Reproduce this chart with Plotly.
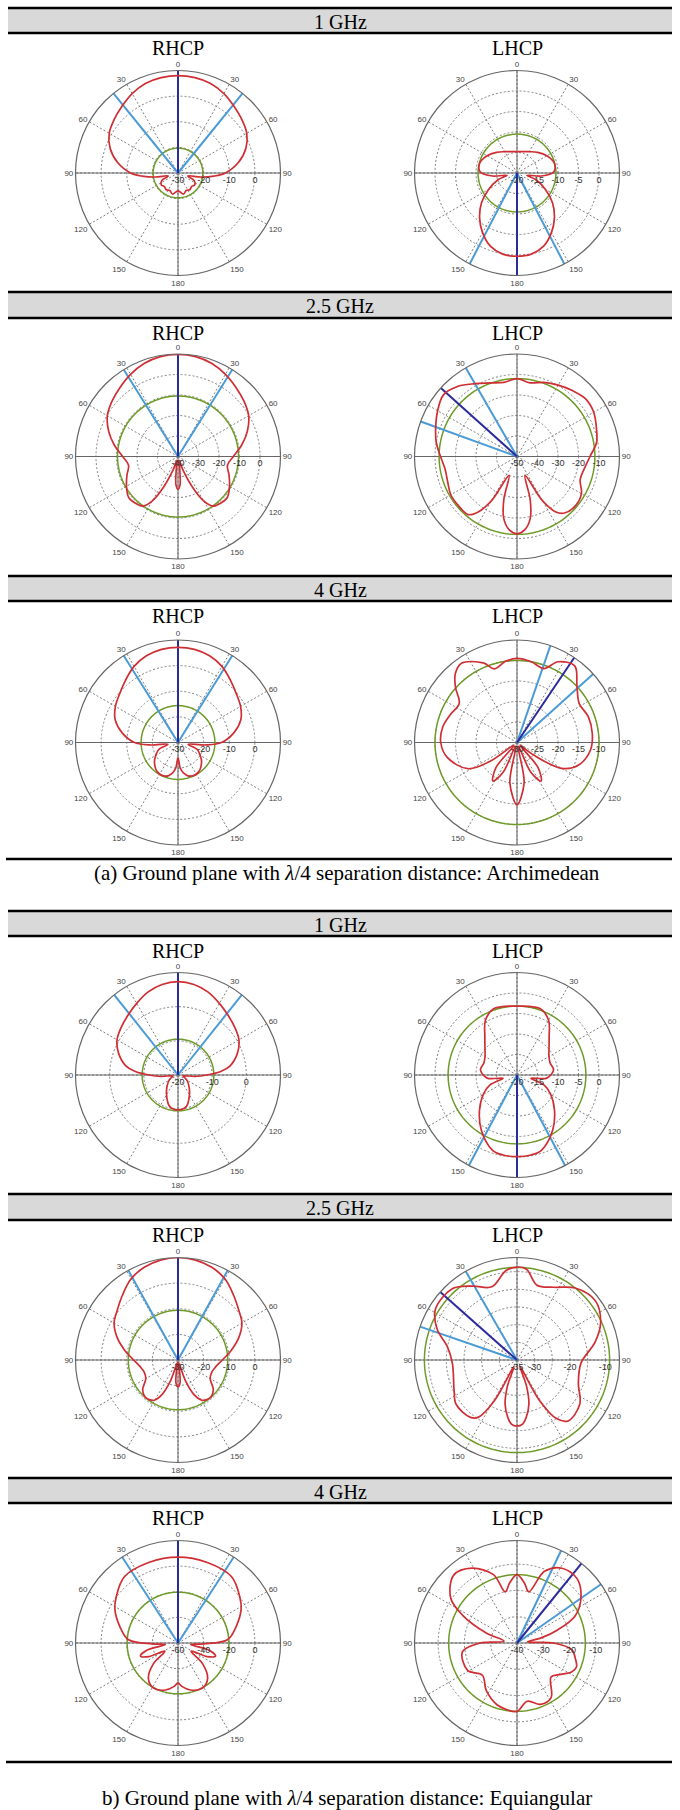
import plotly.graph_objects as go

W, H = 680, 1810

FREQ_LABELS = ["1 GHz", "2.5 GHz", "4 GHz", "1 GHz", "2.5 GHz", "4 GHz"]
POL_LABELS = ["RHCP", "LHCP"]
ANG_TICKS = [0, 30, 60, 90, 120, 150, 180, 210, 240, 270, 300, 330]
ANG_TEXT = ["0", "30", "60", "90", "120", "150", "180", "150", "120", "90", "60", "30"]
CAPTION_A = "(a) Ground plane with <i>λ</i>/4 separation distance: Archimedean"
CAPTION_B = "b) Ground plane with <i>λ</i>/4 separation distance: Equiangular"

# ---------------- (a) Archimedean ----------------
A1R_theta = [0,10,20,30,40,50,60,70,80,90,95,100,107,115,125,135,145,155,165,180,195,205,215,225,235,245,253,260,265,270,280,290,300,310,320,330,340,350,360]
A1R_r = [8,7.8,7.2,5.8,4,2.5,1,-1.8,-6,-11.5,-16,-21,-26,-23,-22,-22.5,-22,-22.5,-21.5,-23,-21.5,-22.5,-22,-22.5,-22,-23,-26,-21,-16,-11.5,-6,-1.8,1,2.5,4,5.8,7.2,7.8,8]
A1R_range = [-30, 10]
A1R_ticks = [-30, -20, -10, 0]
A1R_green = -20.3
A1R_main = 0
A1R_edges = [39, -39]

A1L_theta = [0,15,30,45,60,75,88,97,103,110,120,130,140,150,160,170,180,190,200,210,220,230,240,250,257,263,272,285,300,315,330,345,360]
A1L_r = [-14.8,-14.6,-14.0,-12.9,-11.6,-10.6,-11,-14,-17.5,-15,-12,-8.7,-5.8,-3.2,-1,0.1,0.3,0.1,-1,-3.2,-5.8,-8.7,-12,-15,-17.5,-14,-11,-10.6,-11.6,-12.9,-14.0,-14.6,-14.8]
A1L_range = [-20, 5]
A1L_ticks = [-20, -15, -10, -5, 0]
A1L_green = -10.5
A1L_main = 180
A1L_edges = [152.5, 207.5]

A25R_theta = [0,10,20,30,40,50,60,70,80,90,100,110,120,130,140,145,150,155,160,165,172,176,180,184,188,195,200,205,210,215,220,230,240,250,260,270,280,290,300,310,320,330,340,350,360]
A25R_r = [9.8,9.5,8.3,6.3,4,2,-0.2,-4,-8.5,-13,-15.5,-13.5,-11,-8.7,-9.5,-10.5,-15,-24,-33,-38,-34,-26,-24,-26,-34,-38,-33,-24,-15,-10.5,-9.5,-8.7,-11,-13.5,-15.5,-13,-8.5,-4,-0.2,2,4,6.3,8.3,9.5,9.8]
A25R_range = [-40, 10]
A25R_ticks = [-40, -30, -20, -10, 0]
A25R_green = -10.5
A25R_main = 0
A25R_edges = [32, -32]

A25L_theta = [0,10,20,30,40,50,60,70,80,90,100,110,120,130,140,145,150,157,163,168,174,180,186,192,197,203,210,215,220,230,240,250,260,270,280,290,300,310,320,330,340,350,360]
A25L_r = [-12,-13.5,-11.5,-9.8,-8,-6.3,-6.8,-8.8,-10.6,-14.4,-16.6,-17.2,-13.7,-12.7,-14,-17,-25,-40,-28,-19,-14,-12.3,-14,-19,-28,-40,-25,-17,-13,-12.7,-12.7,-14,-14.4,-12.7,-10,-7.8,-5.3,-3.2,-5.3,-9,-11.8,-13.3,-12]
A25L_range = [-50, 0]
A25L_ticks = [-50, -40, -30, -20, -10]
A25L_green = -12
A25L_main = 312
A25L_edges = [330, 290]

A4R_theta = [0,10,20,30,40,50,60,70,80,90,95,100,110,120,130,145,160,170,175,180,185,190,200,215,230,240,250,260,265,270,280,290,300,310,320,330,340,350,360]
A4R_r = [7.1,6.9,6,4.3,1.8,-0.3,-1.8,-3.9,-7.8,-13,-19,-26,-22,-20,-18,-16,-16,-18,-20,-24,-20,-18,-16,-16,-18,-20,-22,-26,-19,-13,-7.8,-3.9,-1.8,-0.3,1.8,4.3,6,6.9,7.1]
A4R_range = [-30, 10]
A4R_ticks = [-30, -20, -10, 0]
A4R_green = -15.6
A4R_main = 0
A4R_edges = [32, -32]

A4L_theta = [0,10,20,27,37,47,58,70,83,96,110,120,127,133,140,148,155,162,170,180,190,198,205,212,220,227,235,242,258,270,282,293,304,312,318,325,337,343,352,360]
A4L_r = [-9.5,-10,-10.8,-7.9,-6.6,-10,-12.1,-11.5,-11.5,-12,-14,-17.4,-25,-29,-22,-18.9,-22,-29,-20,-14.8,-20,-29,-22,-18.9,-22,-29,-22,-16.4,-12.6,-11.4,-11.5,-12.4,-13,-9.8,-7.5,-6.4,-8.9,-11.2,-10,-9.5]
A4L_range = [-30, -5]
A4L_ticks = [-30, -25, -20, -15, -10]
A4L_green = -10
A4L_main = 34
A4L_edges = [19, 48]

# ---------------- (b) Equiangular ----------------
B1R_theta = [0,10,20,30,40,50,60,70,80,85,90,95,100,110,120,135,150,165,180,195,210,225,240,250,260,265,270,275,280,290,300,310,320,330,340,350,360]
B1R_r = [7.3,6.9,5.8,4.2,2.8,1.7,0.6,-1.5,-4.5,-7.3,-11.5,-15,-18.5,-18,-17,-15.5,-13.3,-10.5,-9.8,-10.5,-13.3,-15.5,-17,-18,-18.5,-15,-11.5,-7.3,-4.5,-1.5,0.6,1.7,2.8,4.2,5.8,6.9,7.3]
B1R_range = [-20, 10]
B1R_ticks = [-20, -10, 0]
B1R_green = -9.5
B1R_main = 0
B1R_edges = [38.5, -38.5]

B1L_theta = [0,10,20,30,40,50,60,70,82,96,103,110,119,133,147,162,170,180,190,198,213,227,241,250,257,264,278,290,300,310,320,330,340,350,360]
B1L_r = [-3.2,-3.0,-2.9,-4.6,-7.8,-9.8,-11,-11.4,-11,-12.7,-16.5,-13,-10.7,-7.5,-4,-0.7,-0.2,-0.1,-0.2,-0.7,-4,-7.5,-10.7,-13,-16.5,-12.7,-11,-11.4,-11,-9.8,-7.8,-4.6,-2.9,-3.0,-3.2]
B1L_range = [-20, 5]
B1L_ticks = [-20, -15, -10, -5, 0]
B1L_green = -3.2
B1L_main = 180
B1L_edges = [152, 208]

B25R_theta = [0,10,20,30,40,50,60,70,80,90,100,110,120,130,138,145,150,155,160,165,170,175,180,185,190,195,200,205,210,215,222,230,240,250,260,270,280,290,300,310,320,330,340,350,360]
B25R_r = [10,9.6,8.5,6.6,3.5,0.8,-1.2,-4.8,-9,-12.7,-15,-16,-15.5,-12,-10.7,-11,-12,-15,-21,-29,-28,-21,-19.5,-21,-28,-29,-21,-15,-12,-11,-10.7,-12,-15.5,-16,-15,-12.7,-9,-4.8,-1.2,0.8,3.5,6.6,8.5,9.6,10]
B25R_range = [-30, 10]
B25R_ticks = [-30, -20, -10, 0]
B25R_green = -10.6
B25R_main = 0
B25R_edges = [29, -29]

B25L_theta = [0,6,15,27,39,53,66,77,93,111,125,140,146,151,155,160,165,171,175,180,185,189,195,200,205,209,214,219,234,244,267,281,291,302,318,329,341,353,360]
B25L_r = [-8.7,-9.2,-13.1,-11.9,-8.8,-7.2,-9.1,-12.3,-16.9,-16.4,-13.3,-12.5,-15,-22,-33,-27,-22,-18.5,-16.8,-16.3,-16.8,-18.5,-22,-27,-33,-22,-15.5,-14.1,-13.7,-15.2,-16.7,-14.9,-10.8,-7.8,-7.8,-10.6,-13.1,-9.5,-8.7]
B25L_range = [-35, -6]
B25L_ticks = [-35, -30, -25, -20, -15, -10]
B25L_ticktext = ["-35", "-30", "", "-20", "", "-10"]
B25L_green = -8.8
B25L_main = 311.5
B25L_edges = [330, 289]

B4R_theta = [0,20,39,53,62,74,86,92,97,103,109,115,122,130,140,152,165,175,180,185,195,208,220,230,238,245,251,257,263,268,274,286,298,307,321,340,360]
B4R_r = [7,6.8,6.5,0.3,-4.2,-12.7,-21,-40,-50,-35,-29,-35,-48,-35,-24,-20,-22,-26,-28.8,-26,-22,-20,-24,-35,-48,-35,-29,-35,-50,-40,-21,-12.7,-4.2,0.3,6.5,6.8,7]
B4R_range = [-60, 20]
B4R_ticks = [-60, -40, -20, 0]
B4R_green = -20.3
B4R_main = 0
B4R_edges = [33, -33]

B4L_theta = [0,7,13,21,31,43,55,65,72,78,84,90,97,105,112,118,127,135,148,159,170,180,189,198,213,227,241,261,270,278,288,297,304,317,329,341,347,353,360]
B4L_r = [-14,-17,-20,-10.8,-6.8,-6.5,-10.3,-15.6,-23.6,-30.6,-36,-26,-19,-17,-15.6,-16.5,-20,-21.7,-15.5,-15,-17.5,-14,-14.4,-15.3,-18.5,-22,-18.5,-19,-26,-35,-27.7,-16.8,-9.6,-4.7,-6.8,-12.5,-20,-17,-14]
B4L_range = [-40, -1]
B4L_ticks = [-40, -30, -20, -10]
B4L_green = -14
B4L_main = 39
B4L_edges = [25.5, 55]

PANELS = [
    (A1R_theta, A1R_r, A1R_range, A1R_ticks, None, A1R_green, A1R_main, A1R_edges),
    (A1L_theta, A1L_r, A1L_range, A1L_ticks, None, A1L_green, A1L_main, A1L_edges),
    (A25R_theta, A25R_r, A25R_range, A25R_ticks, None, A25R_green, A25R_main, A25R_edges),
    (A25L_theta, A25L_r, A25L_range, A25L_ticks, None, A25L_green, A25L_main, A25L_edges),
    (A4R_theta, A4R_r, A4R_range, A4R_ticks, None, A4R_green, A4R_main, A4R_edges),
    (A4L_theta, A4L_r, A4L_range, A4L_ticks, None, A4L_green, A4L_main, A4L_edges),
    (B1R_theta, B1R_r, B1R_range, B1R_ticks, None, B1R_green, B1R_main, B1R_edges),
    (B1L_theta, B1L_r, B1L_range, B1L_ticks, None, B1L_green, B1L_main, B1L_edges),
    (B25R_theta, B25R_r, B25R_range, B25R_ticks, None, B25R_green, B25R_main, B25R_edges),
    (B25L_theta, B25L_r, B25L_range, B25L_ticks, B25L_ticktext, B25L_green, B25L_main, B25L_edges),
    (B4R_theta, B4R_r, B4R_range, B4R_ticks, None, B4R_green, B4R_main, B4R_edges),
    (B4L_theta, B4L_r, B4L_range, B4L_ticks, None, B4L_green, B4L_main, B4L_edges),
]

# ---------------- layout geometry (pixels) ----------------
ROW_BAND = [(8, 33), (292, 318), (576, 601), (911, 936), (1194, 1220), (1478, 1503)]
ROW_CY = [173, 456.5, 742.5, 1075, 1360, 1643]
COL_CX = [178, 517]
RAD = 102.5
SECTION_RULES = [859, 1762]
CAPTION_Y = [873, 1798]
X_LEFT, X_RIGHT = 8, 672

RED = "#cf2f34"
GREEN = "#6e9a28"
DARK_BLUE = "#2b2b9c"
LIGHT_BLUE = "#4b9bd6"
AXIS_GRAY = "#666666"
GRID_GRAY = "#808080"
SERIF = "Liberation Serif, Times New Roman, serif"
SANS = "Liberation Sans, Arial, sans-serif"


def px(x):
    return x / W


def py(y):
    return 1 - y / H


fig = go.Figure()
layout_polars = {}

for i, (th, rr, rng, ticks, ticktext, green, main, edges) in enumerate(PANELS):
    row, col = divmod(i, 2)
    name = "polar" if i == 0 else f"polar{i + 1}"
    sub = name
    cx, cy = COL_CX[col], ROW_CY[row]
    lo, hi = rng

    # axis cross (solid gray lines through the centre)
    fig.add_trace(go.Scatterpolar(r=[hi, lo, hi], theta=[0, 0, 180], mode="lines",
                                  line=dict(color=AXIS_GRAY, width=1), subplot=sub,
                                  hoverinfo="skip", showlegend=False))
    fig.add_trace(go.Scatterpolar(r=[hi, lo, hi], theta=[90, 90, 270], mode="lines",
                                  line=dict(color=AXIS_GRAY, width=1), subplot=sub,
                                  hoverinfo="skip", showlegend=False))
    # reference (green) circle
    circ_theta = list(range(0, 361, 2))
    fig.add_trace(go.Scatterpolar(r=[green] * len(circ_theta), theta=circ_theta, mode="lines",
                                  line=dict(color=GREEN, width=1.5), subplot=sub,
                                  hoverinfo="skip", showlegend=False))
    # beam-width lines
    for a in edges:
        fig.add_trace(go.Scatterpolar(r=[lo, hi], theta=[a, a], mode="lines",
                                      line=dict(color=LIGHT_BLUE, width=2), subplot=sub,
                                      hoverinfo="skip", showlegend=False))
    fig.add_trace(go.Scatterpolar(r=[lo, hi], theta=[main, main], mode="lines",
                                  line=dict(color=DARK_BLUE, width=2), subplot=sub,
                                  hoverinfo="skip", showlegend=False))
    # radiation pattern
    fig.add_trace(go.Scatterpolar(r=rr, theta=th, mode="lines",
                                  line=dict(color=RED, width=1.7, shape="spline", smoothing=1),
                                  subplot=sub, hoverinfo="skip", showlegend=False))

    layout_polars[name] = dict(
        domain=dict(x=[px(cx - RAD), px(cx + RAD)], y=[py(cy + RAD), py(cy - RAD)]),
        bgcolor="white",
        angularaxis=dict(rotation=90, direction="clockwise", tickmode="array",
                         tickvals=ANG_TICKS, ticktext=ANG_TEXT, ticks="",
                         showgrid=True, gridcolor=GRID_GRAY, griddash="2px,2px", gridwidth=1,
                         showline=True, linecolor=AXIS_GRAY, linewidth=1.2,
                         tickfont=dict(size=8, color="#444444", family=SANS)),
        radialaxis=dict(range=rng, tickmode="array", tickvals=ticks,
                        ticktext=ticktext if ticktext else [str(t) for t in ticks],
                        angle=0, side="clockwise", ticks="", showline=False,
                        showgrid=True, gridcolor=GRID_GRAY, griddash="2px,2px", gridwidth=1,
                        tickfont=dict(size=9, color="#333333", family=SANS)),
    )

shapes = []
annotations = []
for row, (t, b) in enumerate(ROW_BAND):
    shapes.append(dict(type="rect", xref="paper", yref="paper", x0=px(X_LEFT), x1=px(X_RIGHT),
                       y0=py(b), y1=py(t), fillcolor="#d9d9d9", line=dict(width=0), layer="below"))
    for yy in (t, b):
        shapes.append(dict(type="line", xref="paper", yref="paper", x0=px(X_LEFT), x1=px(X_RIGHT),
                           y0=py(yy), y1=py(yy), line=dict(color="black", width=2.5)))
    annotations.append(dict(text=FREQ_LABELS[row], x=px(340), y=py((t + b) / 2 + 1), xref="paper",
                            yref="paper", showarrow=False, xanchor="center", yanchor="middle",
                            font=dict(family=SERIF, size=20, color="black")))
    for col in range(2):
        annotations.append(dict(text=POL_LABELS[col], x=px(COL_CX[col]), y=py(b + 15), xref="paper",
                                yref="paper", showarrow=False, xanchor="center", yanchor="middle",
                                font=dict(family=SERIF, size=20, color="black")))

for yy in SECTION_RULES:
    shapes.append(dict(type="line", xref="paper", yref="paper", x0=px(X_LEFT - 2), x1=px(X_RIGHT),
                       y0=py(yy), y1=py(yy), line=dict(color="black", width=2.5)))

for txt, yy in zip([CAPTION_A, CAPTION_B], CAPTION_Y):
    annotations.append(dict(text=txt, x=px(347), y=py(yy), xref="paper", yref="paper",
                            showarrow=False, xanchor="center", yanchor="middle",
                            font=dict(family=SERIF, size=21, color="black")))

fig.update_layout(width=W, height=H, margin=dict(l=0, r=0, t=0, b=0),
                  paper_bgcolor="white", plot_bgcolor="white", showlegend=False,
                  shapes=shapes, annotations=annotations, **layout_polars)

fig.write_html("out.html")
